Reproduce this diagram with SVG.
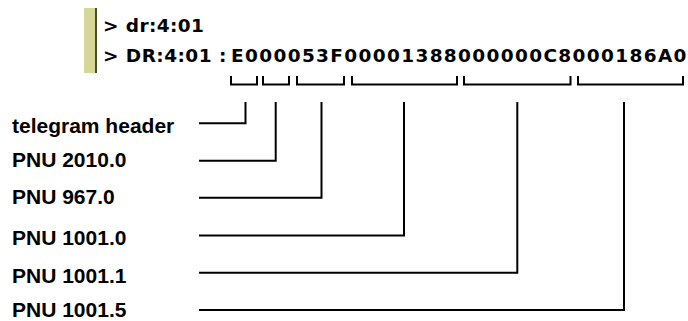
<svg xmlns="http://www.w3.org/2000/svg" width="688" height="321" viewBox="0 0 688 321">
<style>
.mono{font-family:"DejaVu Sans","Verdana",sans-serif;font-weight:bold;font-size:18.5px;fill:#000}
.lbl{font-family:"Liberation Sans",Arial,Helvetica,sans-serif;font-weight:bold;font-size:21px;fill:#000}
.ln{fill:none;stroke:#000;stroke-width:2;stroke-linecap:square;stroke-linejoin:miter}
</style>
<rect width="688" height="321" fill="#fff"/>
<g id="console">
<rect x="84" y="8" width="11" height="65" fill="#d6d696"/>
<rect x="95" y="8" width="2" height="65" fill="#4a4a2c"/>
<text class="mono" x="103" y="32.3" letter-spacing="0.4">&gt; dr:4:01</text>
<text class="mono" y="61.7"><tspan x="103" letter-spacing="0.45">&gt; DR:4:01 :</tspan><tspan x="231" letter-spacing="1.35">E000053F00001388000000C8000186A0</tspan></text>
</g>
<g id="brackets" class="ln">
<path d="M231 77V84.5H257V77"/>
<path d="M263 77V84.5H289V77"/>
<path d="M297 77V84.5H344V77"/>
<path d="M352 77V84.5H457V77"/>
<path d="M464 77V84.5H570.5V77"/>
<path d="M578 77V84.5H683V77"/>
</g>
<g id="telegram-header"><text class="lbl" x="12" y="132.5">telegram header</text></g>
<g id="pnu-2010-0"><text class="lbl" x="12" y="167">PNU 2010.0</text></g>
<g id="pnu-967-0"><text class="lbl" x="12" y="203.5">PNU 967.0</text></g>
<g id="pnu-1001-0"><text class="lbl" x="12" y="245">PNU 1001.0</text></g>
<g id="pnu-1001-1"><text class="lbl" x="12" y="282.5">PNU 1001.1</text></g>
<g id="pnu-1001-5"><text class="lbl" x="12" y="316.5">PNU 1001.5</text></g>
<g id="connectors" class="ln">
<path d="M200 123.3H245.5V103"/>
<path d="M200 160.7H275.7V103"/>
<path d="M200 197.7H321.5V103"/>
<path d="M200 235.5H404V103"/>
<path d="M200 272.8H517.3V103"/>
<path d="M200 310H624V103"/>
</g>
</svg>
